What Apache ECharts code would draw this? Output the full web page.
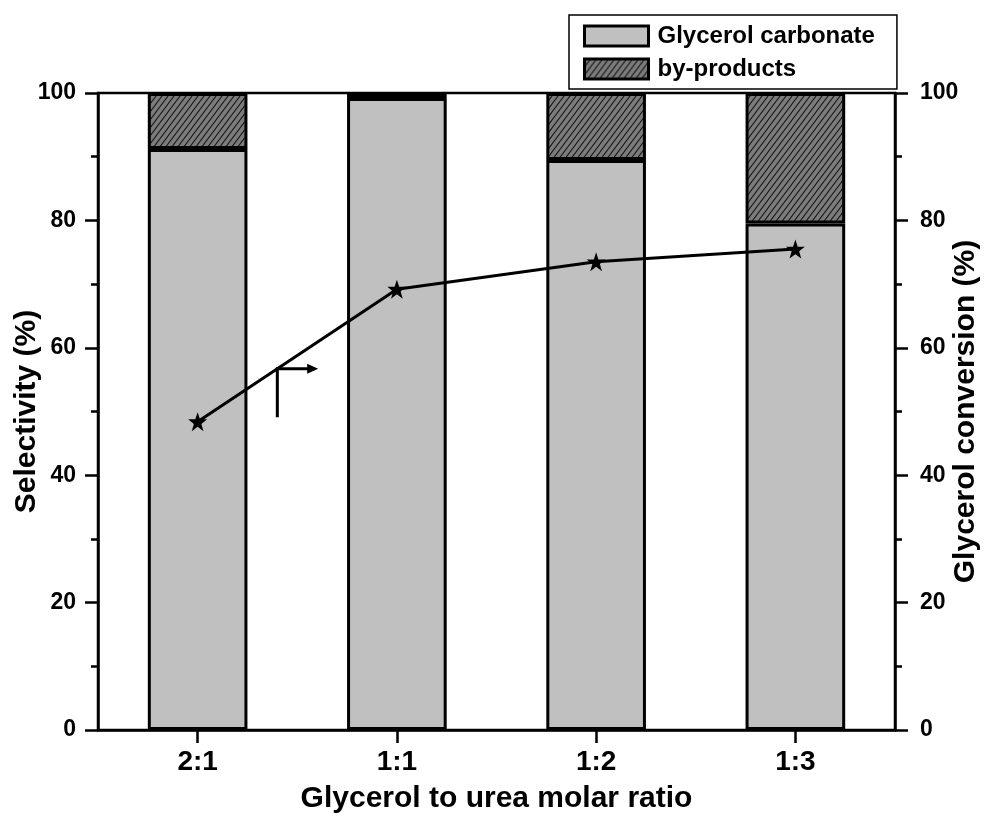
<!DOCTYPE html>
<html>
<head>
<meta charset="utf-8">
<title>Glycerol carbonate selectivity and glycerol conversion</title>
<script src="https://cdn.jsdelivr.net/npm/echarts@6/dist/echarts.min.js"></script>
<style>
  html, body { margin: 0; padding: 0; background: #fff; }
  #chart { width: 984px; height: 817px; }
</style>
</head>
<body>
<div id="chart"></div>
<script>
// Molar ratio categories and measured values (%)
const ratios = ['2:1', '1:1', '1:2', '1:3'];
const carbonateSelectivity = [91.2, 99.2, 89.5, 79.5];
const byProductSelectivity = [8.8, 0.8, 10.5, 20.5];
const glycerolConversion = [48.4, 69.2, 73.5, 75.5];
const yTicks = [0, 20, 40, 60, 80, 100];

const FONT = '"Liberation Sans", Arial, Helvetica, sans-serif';

// Diagonal hatch tile for the by-products segments
function hatchTile() {
  const w = 6, h = 8;
  const c = document.createElement('canvas');
  c.width = w; c.height = h;
  const g = c.getContext('2d');
  g.fillStyle = '#7c7c7c';
  g.fillRect(0, 0, w, h);
  g.strokeStyle = '#1a1a1a';
  g.lineWidth = 1.1;
  g.beginPath();
  g.moveTo(-w, 2 * h); g.lineTo(2 * w, -h);
  g.moveTo(-2 * w, 2 * h); g.lineTo(w, -h);
  g.moveTo(0, 2 * h); g.lineTo(3 * w, -h);
  g.stroke();
  return c;
}

const starPath = 'path://M50,2 L61.5,36 L97,36 L68.5,57.5 L79,92 L50,71 L21,92 L31.5,57.5 L3,36 L38.5,36 Z';

const axisLabelStyle = { color: '#000', fontFamily: FONT, fontWeight: 'bold', fontSize: 23 };
const axisNameStyle = { color: '#000', fontFamily: FONT, fontWeight: 'bold', fontSize: 30 };

function valueAxis(side, name, gap) {
  return {
    type: 'value',
    position: side,
    min: 0, max: 100, interval: 20,
    name: name,
    nameLocation: 'middle',
    nameGap: gap,
    nameMoveOverlap: false,
    nameTextStyle: axisNameStyle,
    axisLine: { show: true, lineStyle: { color: '#000', width: 2.5 } },
    axisTick: { show: true, inside: false, length: 13, lineStyle: { color: '#000', width: 2.5 } },
    minorTick: { show: true, splitNumber: 2, length: 7, lineStyle: { color: '#000', width: 2.5 } },
    axisLabel: Object.assign({ margin: side === 'left' ? 22 : 25,
      formatter: v => (yTicks.indexOf(v) >= 0 ? String(v) : '') }, axisLabelStyle),
    splitLine: { show: false }
  };
}

const chart = echarts.init(document.getElementById('chart'), null, { renderer: 'canvas' });

const option = {
  animation: false,
  backgroundColor: '#fff',
  grid: {
    left: 98, right: 89, top: 93, bottom: 87,
    containLabel: false, outerBoundsMode: 'none',
    show: true, borderColor: '#000', borderWidth: 2.5, backgroundColor: 'transparent'
  },
  legend: {
    data: ['Glycerol carbonate', 'by-products'],
    orient: 'vertical',
    left: 569, top: 15,
    padding: [9, 22, 8, 14],
    itemWidth: 64, itemHeight: 20, itemGap: 9,
    borderColor: '#000', borderWidth: 1.5,
    backgroundColor: '#fff',
    itemStyle: { borderColor: '#000', borderWidth: 3 },
    textStyle: { color: '#000', fontFamily: FONT, fontWeight: 'bold', fontSize: 24, padding: [0, 0, 0, 4] },
    icon: 'rect'
  },
  xAxis: {
    type: 'category',
    data: ratios,
    name: 'Glycerol to urea molar ratio',
    nameLocation: 'middle',
    nameGap: 54,
    nameMoveOverlap: false,
    nameTextStyle: axisNameStyle,
    axisLine: { lineStyle: { color: '#000', width: 2.5 } },
    axisTick: { show: true, alignWithLabel: true, length: 13, lineStyle: { color: '#000', width: 2.5 } },
    axisLabel: Object.assign({}, axisLabelStyle, { fontSize: 28, margin: 18 }),
    splitLine: { show: false }
  },
  yAxis: [
    valueAxis('left', 'Selectivity (%)', 56),
    valueAxis('right', 'Glycerol conversion (%)', 56)
  ],
  series: [
    {
      name: 'Glycerol carbonate',
      type: 'bar',
      stack: 'selectivity',
      barWidth: '50%',
      data: carbonateSelectivity,
      itemStyle: { color: '#c0c0c0', borderColor: '#000', borderWidth: 3 }
    },
    {
      name: 'by-products',
      type: 'bar',
      stack: 'selectivity',
      barWidth: '50%',
      data: byProductSelectivity,
      itemStyle: {
        color: { image: hatchTile(), repeat: 'repeat' },
        borderColor: '#000', borderWidth: 3
      }
    },
    {
      name: 'Glycerol conversion',
      type: 'line',
      yAxisIndex: 1,
      data: glycerolConversion,
      symbol: starPath,
      symbolSize: 19,
      lineStyle: { color: '#000', width: 3 },
      itemStyle: { color: '#000' },
      z: 5
    }
  ]
};

chart.setOption(option);

// L-shaped arrow pointing the conversion curve to its right-hand axis
const arrowSpec = { fromCat: 0, toCat: 1, cornerFrac: 0.40, tipFrac: 0.605, top: 56.7, bottom: 49.1 };
function drawArrow() {
  const x0 = chart.convertToPixel({ xAxisIndex: 0 }, arrowSpec.fromCat);
  const x1 = chart.convertToPixel({ xAxisIndex: 0 }, arrowSpec.toCat);
  const cx = x0 + (x1 - x0) * arrowSpec.cornerFrac;
  const tx = x0 + (x1 - x0) * arrowSpec.tipFrac;
  const yTop = chart.convertToPixel({ yAxisIndex: 1 }, arrowSpec.top);
  const yBot = chart.convertToPixel({ yAxisIndex: 1 }, arrowSpec.bottom);
  const head = 11, half = 5;
  chart.setOption({
    graphic: [
      { type: 'polyline', z: 10, shape: { points: [[cx, yBot], [cx, yTop], [tx - head + 1, yTop]] },
        style: { stroke: '#000', lineWidth: 3, fill: null } },
      { type: 'polygon', z: 10, shape: { points: [[tx, yTop], [tx - head, yTop - half], [tx - head, yTop + half]] },
        style: { fill: '#000' } }
    ]
  });
}
drawArrow();
</script>
</body>
</html>
